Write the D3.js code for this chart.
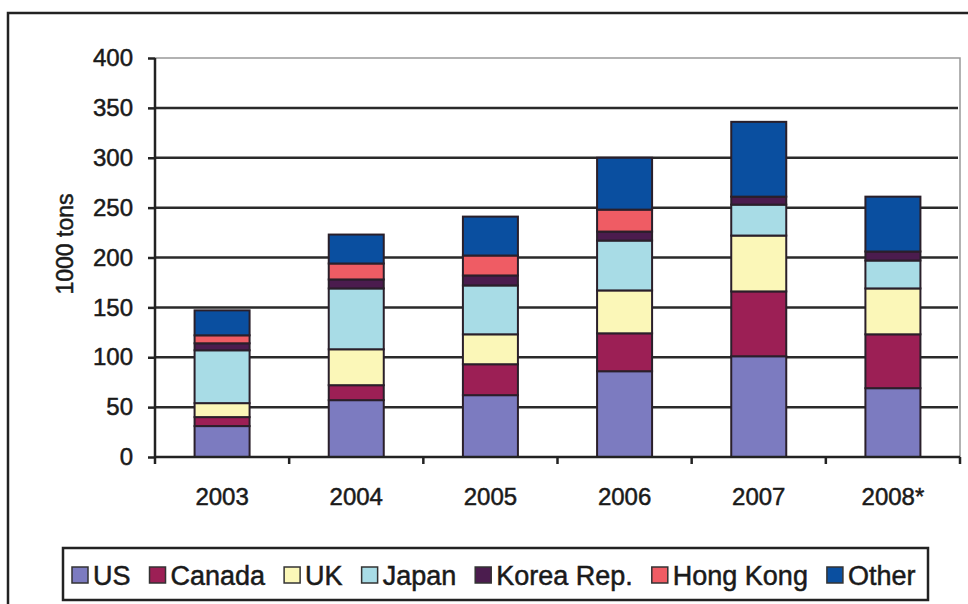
<!DOCTYPE html>
<html><head><meta charset="utf-8">
<script src="https://cdn.jsdelivr.net/npm/d3@7"></script>
<style>body{margin:0;background:#fff}svg{display:block}text{font-family:Arial,"Liberation Sans",sans-serif;fill:#1a1a1a;stroke:#1a1a1a;stroke-width:0.5px}</style>
</head><body><svg id="c" width="968" height="604"></svg>
<script>
const years = ["2003","2004","2005","2006","2007","2008*"];
const seriesNames = ["US","Canada","UK","Japan","Korea Rep.","Hong Kong","Other"];
const US       = [31, 57, 62, 86, 101, 69];
const Canada   = [9, 15, 31, 38, 65, 54];
const UK       = [14, 36, 30, 43, 56, 46];
const Japan    = [53, 61, 49, 50, 31, 28];
const Korea    = [7, 9, 10, 9, 8, 9];
const HongKong = [8, 16, 20, 22, 0, 0];
const Other    = [25, 29, 39, 52, 75, 55];
const yTicks = [0,50,100,150,200,250,300,350,400];
const colors = ["#7c7bc0","#9c1f55","#fbf7b8","#a8dce6","#4b1c4e","#ef5c64","#0a4fa0"];

const values = [US, Canada, UK, Japan, Korea, HongKong, Other];
const rows = years.map((y,i)=>{const r={year:y}; seriesNames.forEach((s,j)=>r[s]=values[j][i]); return r;});
const stack = d3.stack().keys(seriesNames)(rows);

const svg = d3.select("#c");
const L=155, R=960, T=58, B=457;
const x = d3.scaleBand().domain(years).range([L,R]).paddingInner(0.59).paddingOuter(0.295);
const xb = d3.scaleBand().domain(years).range([L,R]);
const y = d3.scaleLinear().domain([0,400]).range([B,T]);

// outer frame
svg.append("rect").attr("x",8).attr("y",13).attr("width",990).attr("height",640)
  .attr("fill","none").attr("stroke","#222").attr("stroke-width",2.5);

// plot border (top/right grey)
svg.append("path").attr("d",`M${L},${y(400)}H${R}V${B}`).attr("fill","none").attr("stroke","#999").attr("stroke-width",1.5);

// gridlines
svg.append("g").selectAll("line").data(yTicks.filter(t=>t>0&&t<400)).join("line")
  .attr("x1",L).attr("x2",R-2).attr("y1",d=>y(d)).attr("y2",d=>y(d))
  .attr("stroke","#2a2a2a").attr("stroke-width",2.5);

// bars
svg.append("g").selectAll("g").data(stack).join("g").attr("fill",(d,i)=>colors[i])
  .selectAll("rect").data(d=>d.filter(p=>p[1]-p[0]>0)).join("rect")
  .attr("x",d=>x(d.data.year)).attr("width",x.bandwidth())
  .attr("y",d=>y(d[1])).attr("height",d=>y(d[0])-y(d[1]))
  .attr("stroke","#2a1f2a").attr("stroke-width",2);

// y axis
const ya = svg.append("g").attr("transform",`translate(${L},0)`)
  .call(d3.axisLeft(y).tickValues(yTicks).tickSize(7).tickPadding(15));
ya.select(".domain").attr("stroke","#222").attr("stroke-width",2.5).attr("d",`M0,${y(400)}V${B}`);
ya.selectAll(".tick line").attr("stroke","#222").attr("stroke-width",2.5);
ya.selectAll(".tick text").attr("font-size",24).attr("fill","#1a1a1a").attr("font-family","Arial, Liberation Sans, sans-serif");

// x axis
const xa = svg.append("g").attr("transform",`translate(0,${B})`);
xa.append("line").attr("x1",L).attr("x2",R).attr("stroke","#222").attr("stroke-width",2.5);
const bounds = years.map(d=>xb(d)).concat([R]);
xa.selectAll("line.t").data(bounds).join("line").attr("class","t")
  .attr("x1",d=>d).attr("x2",d=>d).attr("y1",0).attr("y2",7).attr("stroke","#222").attr("stroke-width",2.5);
xa.selectAll("text").data(years).join("text")
  .attr("x",d=>x(d)+x.bandwidth()/2).attr("y",48).attr("text-anchor","middle")
  .attr("font-size",24).text(d=>d);

// y title
svg.append("text").attr("transform","translate(73,244) rotate(-90)").attr("text-anchor","middle")
  .attr("font-size",23).text("1000 tons");

// legend
const lg = svg.append("g");
lg.append("rect").attr("x",63).attr("y",548).attr("width",865).attr("height",52)
  .attr("fill","#fff").attr("stroke","#222").attr("stroke-width",2.5);
let cx = 72;
seriesNames.forEach((s,i)=>{
  lg.append("rect").attr("x",cx).attr("y",567).attr("width",16).attr("height",16)
    .attr("fill",colors[i]).attr("stroke","#333").attr("stroke-width",1.5);
  const t = lg.append("text").attr("x",cx+21).attr("y",585).attr("font-size",27).text(s);
  cx += 21 + t.node().getComputedTextLength() + 19;
});
</script></body></html>
